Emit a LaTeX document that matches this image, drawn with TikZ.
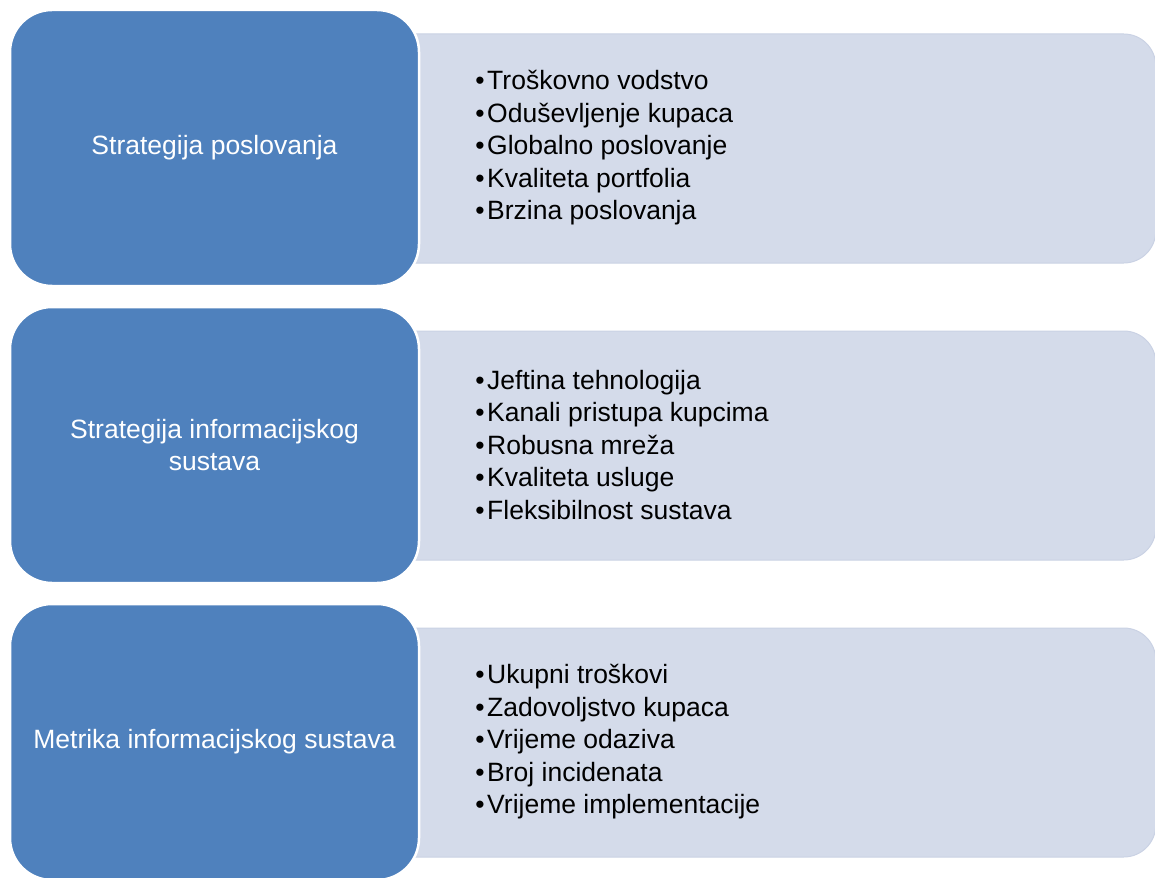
\documentclass[tikz,border=0pt]{standalone}
\usepackage{xcolor}
\usepackage{fontspec}
\setmainfont{Liberation Sans}
\usepackage{tikz}
\usetikzlibrary{positioning,backgrounds}
\definecolor{boxblue}{RGB}{79,129,189}
\definecolor{boxgrey}{RGB}{212,219,234}
\definecolor{greyline}{RGB}{202,210,228}
\newcommand{\itm}{•\hspace{2.5pt}}

\begin{document}
\begin{tikzpicture}[x=1pt,y=1pt]
        \tikzset{bblock/.style={draw=white, line width=2.5pt, fill=boxblue, rectangle, rounded corners=42pt, align=center, text=white, minimum width=409pt, minimum height=276pt, font=\fontsize{26.5}{32.5}\selectfont},
        gblock/.style={draw=greyline, line width=1pt, fill=boxgrey, rectangle, rounded corners=32pt, minimum width=784pt, minimum height=229pt},
        list/.style={inner sep=0pt, align=left, font=\fontsize{26.5}{32.5}\selectfont}
        }
        \useasboundingbox (0,0) rectangle (1155,-877);
        \node [bblock] at (214.5,-148) (strat) {Strategija poslovanja};
        \node [bblock, below =18.5pt of strat] (isstrat) {Strategija informacijskog\\ sustava};
        \node [bblock, below =18.5pt of isstrat] (metrika) {Metrika informacijskog sustava};
        \node [list, right =55pt of strat] (list1) {\itm Troškovno vodstvo\\ \itm Oduševljenje kupaca\\ \itm Globalno poslovanje\\ \itm Kvaliteta portfolia\\ \itm Brzina poslovanja};
        \node [list, right =55pt of isstrat] (list2) {\itm Jeftina tehnologija\\ \itm Kanali pristupa kupcima\\ \itm Robusna mreža\\ \itm Kvaliteta usluge\\ \itm Fleksibilnost sustava};
        \node [list, right =55pt of metrika] (list3) {\itm Ukupni troškovi\\ \itm Zadovoljstvo kupaca\\ \itm Vrijeme odaziva\\ \itm Broj incidenata\\ \itm Vrijeme implementacije};

%% grey boxes behind the blue ones
        \begin{scope}[on background layer]
        \node [gblock, right =-49pt of strat, yshift=-0.5pt] (g1) {};
        \node [gblock, right =-49pt of isstrat, yshift=-0.5pt] (g2) {};
        \node [gblock, right =-49pt of metrika, yshift=-0.5pt] (g3) {};
        \end{scope}
\end{tikzpicture}
\end{document}
